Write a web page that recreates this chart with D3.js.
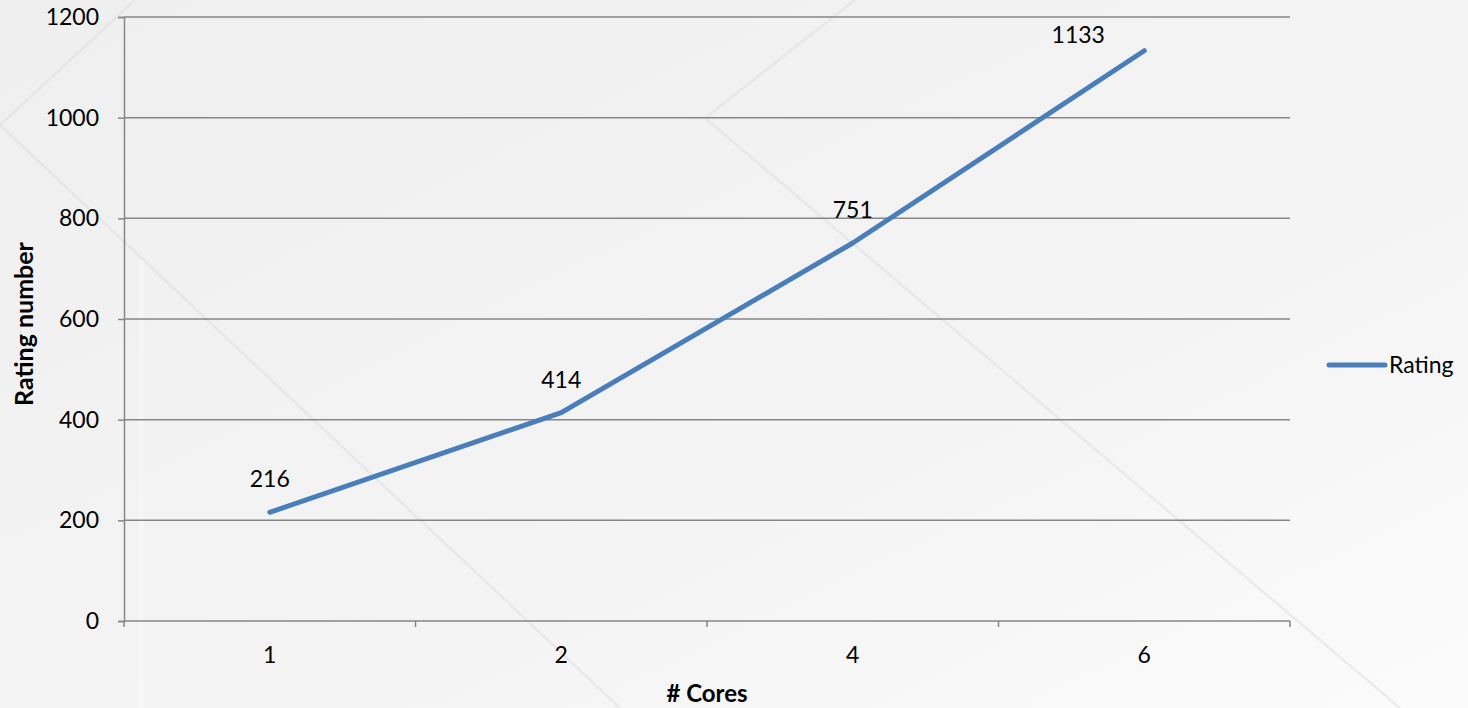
<!DOCTYPE html>
<html>
<head>
<meta charset="utf-8">
<script src="https://cdn.jsdelivr.net/npm/d3@7"></script>
<style>
  html, body { margin: 0; padding: 0; background: #f3f3f3; }
  svg { display: block; }
  text { font-family: Lato, "Open Sans", "Liberation Sans", sans-serif; fill: #000; }
</style>
</head>
<body>
<svg id="chart" width="1468" height="708"></svg>
<script>
// Rating by number of cores
const cores = ["1", "2", "4", "6"];
const ratings = [216, 414, 751, 1133];
const yTicks = [0, 200, 400, 600, 800, 1000, 1200];
const seriesName = "Rating";
const xTitle = "# Cores";
const yTitle = "Rating number";

// Label nudges (dx, dy) relative to the default spot above each point
const labelNudge = [[0, 0], [0, 0], [0, 0], [-66, 17]];

const W = 1468, H = 708;
const margin = { left: 124, right: 178, top: 17, bottom: 87 };
const svg = d3.select("#chart");
const fs = "23px";

// Backdrop: soft grey gradient with faint diagonal streaks
const defs = svg.append("defs");
const grad = defs.append("linearGradient").attr("id", "bg")
  .attr("x1", "0").attr("y1", "0").attr("x2", "1").attr("y2", "1");
grad.append("stop").attr("offset", "0%").attr("stop-color", "#efefef");
grad.append("stop").attr("offset", "60%").attr("stop-color", "#f4f4f4");
grad.append("stop").attr("offset", "100%").attr("stop-color", "#fbfbfb");
svg.append("rect").attr("width", W).attr("height", H).attr("fill", "url(#bg)");

const streaks = [
  [[135, 0], [0, 125]],
  [[0, 125], [620, 708]],
  [[855, 0], [705, 118]],
  [[705, 118], [1400, 708]]
];
svg.append("g").selectAll("line").data(streaks).join("line")
  .attr("x1", d => d[0][0]).attr("y1", d => d[0][1])
  .attr("x2", d => d[1][0]).attr("y2", d => d[1][1])
  .attr("stroke", "#dcdcdc").attr("stroke-width", 2.5).attr("opacity", 0.45);
svg.append("line").attr("x1", 141).attr("x2", 141).attr("y1", 260).attr("y2", H)
  .attr("stroke", "#ffffff").attr("stroke-width", 5).attr("opacity", 0.35);

const x = d3.scaleBand().domain(cores).range([margin.left, W - margin.right]).padding(0);
const y = d3.scaleLinear().domain([0, 1200]).range([H - margin.bottom, margin.top]);

// Horizontal gridlines
svg.append("g").selectAll("line").data(yTicks.filter(t => t > 0)).join("line")
  .attr("x1", margin.left).attr("x2", W - margin.right)
  .attr("y1", d => y(d)).attr("y2", d => y(d))
  .attr("stroke", "#868686").attr("stroke-width", 1.5);

// Y axis
const yAxis = svg.append("g").attr("transform", `translate(${margin.left},0)`)
  .call(d3.axisLeft(y).tickValues(yTicks).tickFormat(d3.format("d")).tickSize(6).tickPadding(19));
yAxis.select(".domain").attr("stroke", "#868686").attr("stroke-width", 1.5);
yAxis.selectAll(".tick line").attr("stroke", "#868686").attr("stroke-width", 1.5);
yAxis.selectAll("text").style("font-size", fs).attr("fill", "#000");

// X axis: ticks on category boundaries, labels at category centres
const xAxisG = svg.append("g").attr("transform", `translate(0,${y(0)})`);
xAxisG.append("line").attr("x1", margin.left).attr("x2", W - margin.right)
  .attr("stroke", "#868686").attr("stroke-width", 1.5);
const bounds = cores.map(c => x(c)).concat([x(cores[cores.length - 1]) + x.bandwidth()]);
xAxisG.selectAll("line.tk").data(bounds).join("line").attr("class", "tk")
  .attr("x1", d => d).attr("x2", d => d).attr("y1", 0).attr("y2", 6)
  .attr("stroke", "#868686").attr("stroke-width", 1.5);
xAxisG.selectAll("text").data(cores).join("text")
  .attr("x", d => x(d) + x.bandwidth() / 2).attr("y", 42)
  .attr("text-anchor", "middle").style("font-size", fs).text(d => d);

// Series line
const pts = cores.map((c, i) => [x(c) + x.bandwidth() / 2, y(ratings[i])]);
svg.append("path").datum(pts)
  .attr("d", d3.line())
  .attr("fill", "none").attr("stroke", "#4a7ebb").attr("stroke-width", 5)
  .attr("stroke-linecap", "round").attr("stroke-linejoin", "round");

// Data labels
svg.append("g").selectAll("text").data(ratings).join("text")
  .attr("x", (d, i) => pts[i][0] + labelNudge[i][0])
  .attr("y", (d, i) => pts[i][1] - 25 + labelNudge[i][1])
  .attr("text-anchor", "middle").style("font-size", fs).text(d => d);

// Axis titles
svg.append("text").attr("x", (margin.left + W - margin.right) / 2).attr("y", 702)
  .attr("text-anchor", "middle").style("font-size", "24px").style("font-weight", "bold").text(xTitle);
svg.append("text").attr("transform", "translate(33,324) rotate(-90)")
  .attr("text-anchor", "middle").style("font-size", "25px").style("font-weight", "bold").text(yTitle);

// Legend
const lg = svg.append("g").attr("transform", "translate(1329,365)");
lg.append("line").attr("x1", 0).attr("x2", 56)
  .attr("stroke", "#4a7ebb").attr("stroke-width", 5).attr("stroke-linecap", "round");
lg.append("text").attr("x", 60).attr("y", 8).style("font-size", fs).text(seriesName);
</script>
</body>
</html>
